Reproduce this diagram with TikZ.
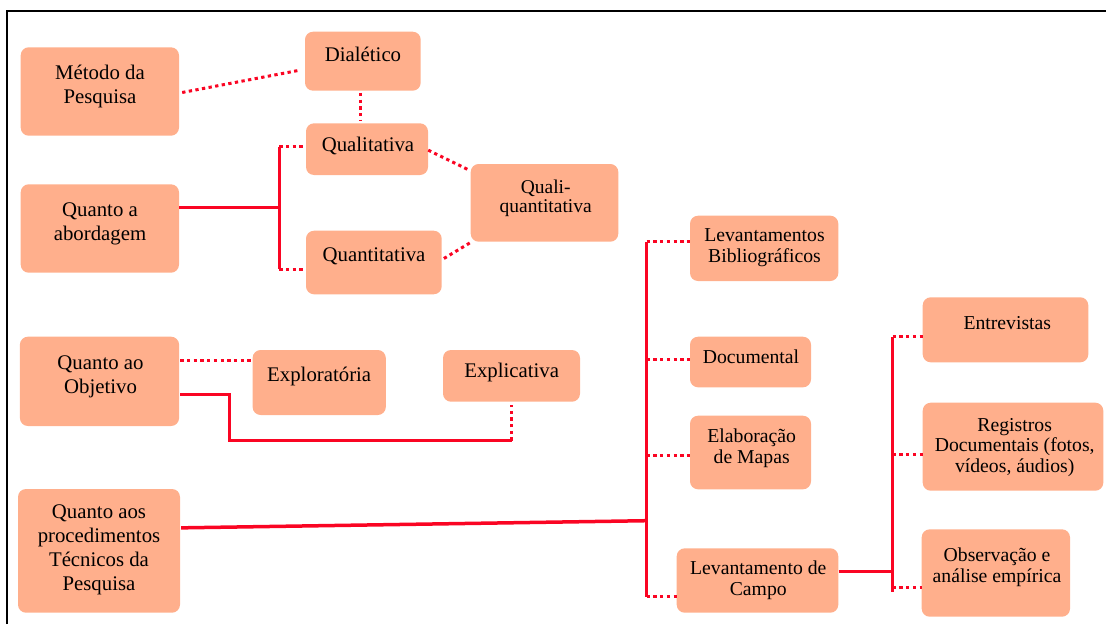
\documentclass[tikz,border=0pt]{standalone}
\usepackage{fontspec}
\setmainfont{Liberation Serif}
\usetikzlibrary{calc}

\definecolor{boxfill}{RGB}{255,175,140}
\definecolor{linkred}{RGB}{250,5,35}

\tikzset{
  pbox/.style={rectangle, rounded corners=8pt, fill=boxfill, draw=none, inner sep=0pt},
  ltxt/.style={align=center, inner sep=0pt, font=\fontsize{20.8}{24}\selectfont},
  rtxt/.style={align=center, inner sep=0pt, font=\fontsize{19.7}{20.5}\selectfont},
  solidline/.style={draw=linkred, line width=3pt},
  dotline/.style={draw=linkred, line width=3pt, dash pattern=on 3.3pt off 3.4pt},
}

\begin{document}
\begin{tikzpicture}[x=1pt, y=-1pt]
\useasboundingbox (0,0) rectangle (1106,624);

% outer frame (top and left edges)
\draw[line width=2pt] (7.3,624) -- (7.3,11) -- (1106,11);

% ---- boxes ----
\node[pbox, minimum width=158.3pt, minimum height=88.4pt] (met) at (99.85,91.5) {};
\node[pbox, minimum width=115.7pt, minimum height=59pt]   (dia) at (362.85,61.2) {};
\node[pbox, minimum width=122pt,   minimum height=51.7pt] (qual) at (367,149.15) {};
\node[pbox, minimum width=158.3pt, minimum height=88.4pt] (abo) at (99.85,228.5) {};
\node[pbox, minimum width=135.7pt, minimum height=63.6pt] (quan) at (373.85,262.5) {};
\node[pbox, minimum width=147.6pt, minimum height=77.7pt] (qq) at (544.5,202.85) {};
\node[pbox, minimum width=159.2pt, minimum height=89.3pt] (obj) at (99.5,381.35) {};
\node[pbox, minimum width=133.2pt, minimum height=65pt]   (exp) at (319.2,382.5) {};
\node[pbox, minimum width=137pt,   minimum height=51.7pt] (expl) at (511.5,375.85) {};
\node[pbox, minimum width=162pt,   minimum height=123.7pt] (proc) at (99,550.85) {};
\node[pbox, minimum width=148.3pt, minimum height=65.3pt] (lb) at (764.15,248.35) {};
\node[pbox, minimum width=121pt,   minimum height=50.6pt] (doc) at (750.5,362) {};
\node[pbox, minimum width=121pt,   minimum height=73.6pt] (ela) at (750.5,452.5) {};
\node[pbox, minimum width=161.6pt, minimum height=64.4pt] (camp) at (757.5,580.5) {};
\node[pbox, minimum width=165.6pt, minimum height=65pt]   (ent) at (1005.5,329.8) {};
\node[pbox, minimum width=180.6pt, minimum height=88pt]   (reg) at (1013,446.7) {};
\node[pbox, minimum width=148.3pt, minimum height=87.4pt] (obs) at (995.85,573) {};

% ---- texts ----
\node[ltxt] (met-t)  at (100,86.2)  {\strut Método da\\\strut Pesquisa};
\node[ltxt] (dia-t)  at (363,56.9)  {\strut Dialético};
\node[ltxt] (qual-t) at (368,146.2) {\strut Qualitativa};
\node[ltxt] (abo-t)  at (100,223.9) {\strut Quanto a\\\strut abordagem};
\node[ltxt] (quan-t) at (374,256.4) {\strut Quantitativa};
\node[rtxt, font=\fontsize{19.5}{19.5}\selectfont] (qq-t) at (545.7,199) {\strut Quali-\\\strut quantitativa};
\node[ltxt] (obj-t)  at (100.5,376.5) {\strut Quanto ao\\\strut Objetivo};
\node[ltxt] (exp-t)  at (319.2,376.9) {\strut Exploratória};
\node[ltxt] (expl-t) at (511.7,372.5) {\strut Explicativa};
\node[ltxt] (proc-t) at (99,549.4) {\strut Quanto aos\\\strut procedimentos\\\strut Técnicos da\\\strut Pesquisa};
\node[rtxt] (lb-t)   at (764.5,248)  {\strut Levantamentos\\\strut Bibliográficos};
\node[rtxt] (doc-t)  at (751,359.1)  {\strut Documental};
\node[rtxt] (ela-t)  at (751.7,449.1) {\strut Elaboração\\\strut de Mapas};
\node[rtxt] (camp-t) at (758.3,580.8) {\strut Levantamento de\\\strut Campo};
\node[rtxt] (ent-t)  at (1007.3,325.1) {\strut Entrevistas};
\node[rtxt] (reg-t)  at (1014.7,447.5) {\strut Registros\\\strut Documentais (fotos,\\\strut vídeos, áudios)};
\node[rtxt] (obs-t)  at (997,568.1)  {\strut Observação e\\\strut análise empírica};

% ---- method ----
\draw[dotline] ([xshift=3pt,yshift=-1pt]met.east) -- ([xshift=-5pt,yshift=-9pt]dia.west);
\draw[dotline, shorten <=2pt, shorten >=2pt] ([xshift=-2pt]dia.south) -- ([xshift=-2pt]dia.south |- qual.north);

% ---- approach ----
\coordinate (j1)  at (279.3,207.3);
\coordinate (j1t) at (279.3,146.7);
\coordinate (j1b) at (279.3,269.3);
\draw[solidline] (abo.east |- j1) -- (j1);
\draw[solidline] (j1t) -- (j1b);
\draw[dotline] (j1t) -- (j1t -| qual.west);
\draw[dotline] (j1b) -- (j1b -| quan.west);
\draw[dotline] ([yshift=-1pt]qual.east) -- ([xshift=-2pt,yshift=-6pt]qq.north west);
\draw[dotline] ([xshift=2pt,yshift=4pt]quan.east) -- ([xshift=1pt]qq.south west);

% ---- objective ----
\coordinate (o1) at ([xshift=1pt,yshift=21pt]obj.east);
\coordinate (o2) at ([xshift=1pt,yshift=-13pt]obj.east);
\coordinate (k1) at (229.6,440.7);
\coordinate (k2) at (k1 -| expl.south);
\draw[dotline] (o1) -- (o1 -| exp.west);
\draw[solidline] (o2) -| (k1) -- (k2);
\draw[dotline, shorten >=3pt] (k2) -- (expl.south);

% ---- technical procedures ----
\coordinate (j2)  at (646.7,520.7);
\coordinate (b1) at (646.7,241.7);
\coordinate (b2) at (646.7,359.3);
\coordinate (b3) at (646.7,455);
\coordinate (b4) at (646.7,596.5);
\draw[solidline, line width=3.5pt] ([xshift=1pt,yshift=23pt]proc.east) -- (j2);
\draw[solidline] (b1) -- (b4);
\draw[dotline] (b1) -- (b1 -| lb.west);
\draw[dotline] (b2) -- (b2 -| doc.west);
\draw[dotline] (b3) -- (b3 -| ela.west);
\draw[dotline] (b4) -- (b4 -| camp.west);

% ---- field survey ----
\coordinate (j3)  at (892.7,571.7);
\coordinate (c1) at (892.7,336.7);
\coordinate (c2) at (892.7,454);
\coordinate (c3) at (892.7,591.7);
\coordinate (c3d) at (892.7,587.3);
\draw[solidline] (camp.east |- j3) -- (j3);
\draw[solidline] (c1) -- (c3);
\draw[dotline] (c1) -- (c1 -| ent.west);
\draw[dotline] (c2) -- (c2 -| reg.west);
\draw[dotline] (c3d) -- (c3d -| obs.west);
\end{tikzpicture}
\end{document}
